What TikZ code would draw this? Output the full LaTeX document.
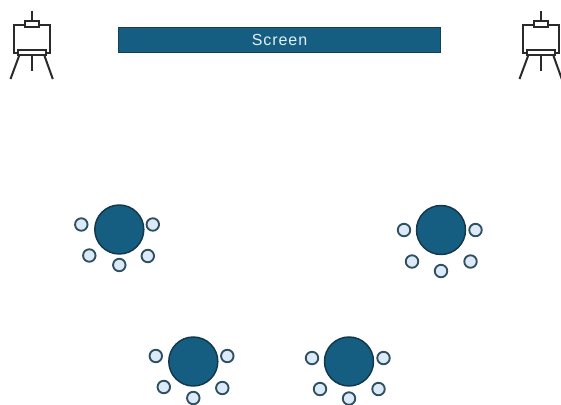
\documentclass[tikz,border=0pt]{standalone}
\usepackage{fontspec}
\setmainfont{Liberation Sans}
\newfontfamily\screenfont[LetterSpace=6]{Liberation Sans}
\definecolor{roomblue}{HTML}{155E82}
\definecolor{roomedge}{HTML}{12384A}
\definecolor{seatfill}{HTML}{DCE9F6}
\definecolor{seatedge}{HTML}{2F5060}
\definecolor{screentext}{HTML}{E3F0F6}
\definecolor{easelink}{HTML}{2A2A2A}
\tikzset{
  x=0.75pt, y=-0.75pt,
  screenbox/.style={rectangle, draw=roomedge!80!roomblue, fill=roomblue, line width=0.9pt,
                    minimum width=322*0.75pt, minimum height=25*0.75pt, inner sep=0pt,
                    text=screentext, font=\screenfont\fontsize{12}{14}\selectfont},
  tablebox/.style={circle, draw=roomedge, fill=roomblue, line width=1.1pt,
                   minimum size=49*0.75pt, inner sep=0pt},
  seatbox/.style={circle, draw=seatedge, fill=seatfill, line width=1.4pt,
                  minimum size=12.5*0.75pt, inner sep=0pt},
  easelbox/.style={rectangle, draw=easelink, fill=white, line width=1.5pt, inner sep=0pt},
  easelline/.style={draw=easelink, line width=1.5pt},
}
% one table with five seats: #1 name, #2 table position, then the seat offsets
\newcommand{\tablegroup}[3]{
  \node[tablebox] (#1) at (#2) {};
  \foreach \dx/\dy [count=\k] in {#3}
    \node[seatbox] (#1s\k) at ([shift={(\dx,\dy)}]#1) {};
}
% one easel: #1 name, #2 horizontal shift
\newcommand{\easel}[2]{
  \begin{scope}[xshift=#2*0.75pt]
    \node[easelbox, minimum width=36*0.75pt, minimum height=28*0.75pt] (#1canvas) at (31.8,38.5) {};
    \node[easelbox, minimum width=14.5*0.75pt, minimum height=5.5*0.75pt] (#1clamp) at (31.8,24.2) {};
    \node[easelbox, minimum width=28.5*0.75pt, minimum height=4.5*0.75pt] (#1tray) at (31.8,52.7) {};
    \coordinate (#1top) at (31.8,10.5);
    \coordinate (#1foot) at (31.8,71);
    \coordinate (#1footl) at (10.5,79);
    \coordinate (#1footr) at (52.8,79);
    \draw[easelline] (#1top) -- (#1clamp.north);
    \draw[easelline] (#1tray.south) -- (#1foot);
    \draw[easelline] (#1tray.south west) ++(2.5,0) -- (#1footl);
    \draw[easelline] (#1tray.south east) ++(-2.5,0) -- (#1footr);
  \end{scope}
}

\begin{document}
\begin{tikzpicture}
  \useasboundingbox (0,0) rectangle (561,404);
  \node[screenbox] (screen) at (279.5,39.8) {Screen};
  \easel{left}{0}
  \easel{right}{509}
  \tablegroup{tablea}{119.3,229.5}{-38/-5, 33.5/-5, -30/26, 0/35.5, 28.5/26.5}
  \tablegroup{tableb}{441,230}{-37/0, 34.5/0, -29/31.5, 0/41, 29.5/31.5}
  \tablegroup{tablec}{193.3,361.5}{-37.5/-5.5, 34/-5.5, -29.5/25.5, 0/36.5, 29/26.5}
  \tablegroup{tabled}{349,361.5}{-37/-3.5, 34.5/-3.5, -29/27.5, 0/37, 29.5/27.5}
\end{tikzpicture}
\end{document}
